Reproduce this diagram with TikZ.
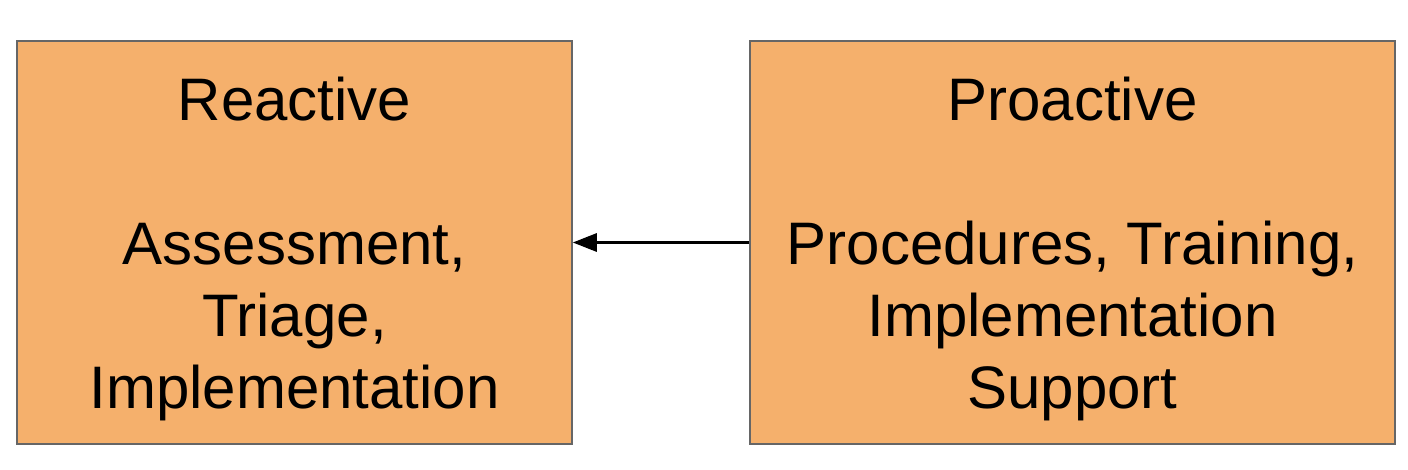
\documentclass[tikz,border=0pt]{standalone}
\usepackage{fontspec}
\setmainfont{Liberation Sans}
\usepackage{tikz}
\usetikzlibrary{arrows.meta}
\definecolor{boxfill}{HTML}{F5B06C}
\definecolor{boxline}{HTML}{666666}

\begin{document}
\begin{tikzpicture}[x=1pt,y=-1pt]
            \useasboundingbox (0,0) rectangle (1408,469);
            \begin{scope}[every node/.style={rectangle,draw=boxline,fill=boxfill,
                          line width=1.5pt,align=center,inner sep=0pt,text depth=0pt,
                          font=\fontsize{60}{72}\selectfont}]
                \node[minimum width=555pt,minimum height=403pt] (R) at (294.5,242.5)
                    {Reactive\\[72pt]Assessment,\\Triage,\\Implementation};
                \node[minimum width=645pt,minimum height=403pt] (P) at (1072.5,242.5)
                    {Proactive\\[72pt]Procedures, Training,\\Implementation\\Support};
            \end{scope}
            
            \begin{scope}[>={Triangle[length=24pt,width=18pt]},
                          every edge/.style={draw=black,line width=3pt}]
                \path [->] (P) edge (R);
            \end{scope}
            \end{tikzpicture}
\end{document}
